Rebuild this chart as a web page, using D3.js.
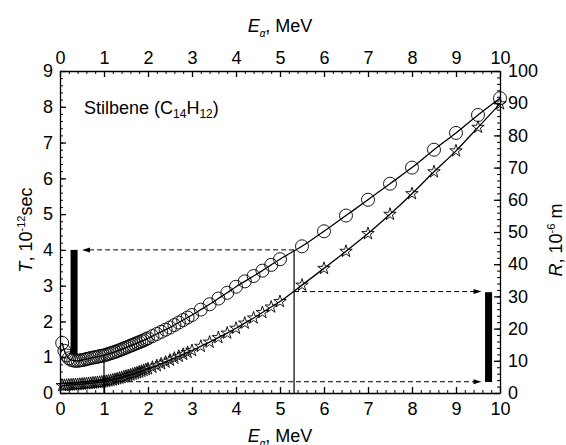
<!DOCTYPE html>
<head>
  <meta charset="utf-8">
  <style>
  body{
    margin:0;
    background-color:white;
  }
  svg{
    font-family:"Liberation Sans", Arial, sans-serif;
  }
  .axis text{
    font-size:18px;
    fill:black;
  }
  .axis path, .axis line{
    stroke:black;
  }
  .title{
    font-size:18px;
  }
  </style>
</head>
<body>
  <svg width="566" height="445"></svg>
  <script src="https://d3js.org/d3.v7.min.js"></script>
  <script>

  // energy grid (MeV), shared by both series
  var energy = [0.05,0.1,0.15,0.2,0.25,0.3,0.35,0.4,0.45,0.5,0.55,0.6,0.65,0.7,0.75,0.8,0.85,0.9,0.95,1.0,
    1.05,1.1,1.15,1.2,1.25,1.3,1.35,1.4,1.45,1.5,1.55,1.6,1.65,1.7,1.75,1.8,1.85,1.9,1.95,2.0,
    2.1,2.2,2.3,2.4,2.5,2.6,2.7,2.8,2.9,3.0,
    3.2,3.4,3.6,3.8,4.0,4.2,4.4,4.6,4.8,5.0,
    5.5,6,6.5,7,7.5,8,8.5,9,9.5,10];

  // transit time T, 10^-12 s (circles, left axis)
  var timeT = [1.4,1.18,1.05,0.97,0.93,0.91,0.9,0.9,0.91,0.92,0.93,0.95,0.96,0.98,0.99,1.0,1.01,1.03,1.04,1.05,
    1.07,1.09,1.11,1.13,1.15,1.17,1.195,1.22,1.245,1.27,1.295,1.32,1.345,1.37,1.395,1.42,1.445,1.47,1.5,1.53,
    1.59,1.65,1.71,1.77,1.83,1.9,1.97,2.04,2.11,2.18,
    2.33,2.48,2.64,2.8,2.97,3.12,3.27,3.42,3.58,3.74,
    4.1,4.52,4.96,5.4,5.85,6.3,6.8,7.27,7.77,8.24];

  // range R, 10^-6 m (stars, right axis)
  var rangeR = [2.3,2.35,2.4,2.45,2.5,2.55,2.6,2.65,2.7,2.75,2.8,2.9,2.95,3.0,3.1,3.15,3.25,3.3,3.4,3.5,
    3.62,3.75,3.9,4.05,4.22,4.4,4.6,4.8,5.0,5.2,5.4,5.6,5.82,6.05,6.27,6.5,6.75,7.0,7.25,7.5,
    8.0,8.5,9.05,9.6,10.2,10.8,11.4,12.0,12.6,13.2,
    14.5,15.8,17.2,18.6,20.1,21.7,23.3,25.0,26.7,28.4,
    33.5,38.7,44.0,49.5,55.5,61.9,68.7,75.2,82.5,89.8];

  var eTicks = [0,1,2,3,4,5,6,7,8,9,10];
  var tTicks = [0,1,2,3,4,5,6,7,8,9];
  var rTicks = [0,10,20,30,40,50,60,70,80,90,100];

  // read-off guides: energies of the two drop lines, T and R levels, bar spans
  var guideE = [1, 5.32];
  var guideT = [1.02, 4];
  var guideR = [31.5, 3.5];
  var barLeftE = [0.24, 0.4], barLeftT = [1.08, 4];
  var barRightE = [9.66, 9.82], barRightR = [3.4, 31.3];
  var arrowTipE = [0.5, 9.58];

  var svg = d3.select("svg"),
      pLeft = 60, pRight = 500, pTop = 71, pBottom = 393;

  var x = d3.scaleLinear().domain([0, 10]).range([pLeft, pRight]);
  var yT = d3.scaleLinear().domain([0, 9]).range([pBottom, pTop]);
  var yR = d3.scaleLinear().domain([0, 100]).range([pBottom, pTop]);

  var minorE = d3.range(0, 10.001, 0.2), minorT = d3.range(0, 9.001, 0.2), minorR = d3.range(0, 100.001, 2);

  function drawAxis(axis, minorAxis, tr) {
    svg.append("g").attr("class", "axis").attr("transform", tr)
      .call(minorAxis.tickFormat("").tickSize(-3).tickSizeOuter(0))
      .call(function(g) { g.select(".domain").remove(); });
    svg.append("g").attr("class", "axis").attr("transform", tr).call(axis)
      .selectAll("line, path").attr("stroke-width", 1.3);
  }

  var axB = d3.axisBottom(x).tickValues(eTicks).tickFormat(d3.format("d")).tickSize(-6).tickSizeOuter(0).tickPadding(9);
  var axT = d3.axisTop(x).tickValues(eTicks).tickFormat(d3.format("d")).tickSize(-6).tickSizeOuter(0).tickPadding(7);
  var axL = d3.axisLeft(yT).tickValues(tTicks).tickFormat(d3.format("d")).tickSize(-6).tickSizeOuter(0).tickPadding(7);
  var axR = d3.axisRight(yR).tickValues(rTicks).tickFormat(d3.format("d")).tickSize(-6).tickSizeOuter(0).tickPadding(8);

  drawAxis(axB, d3.axisBottom(x).tickValues(minorE), "translate(0," + pBottom + ")");
  drawAxis(axT, d3.axisTop(x).tickValues(minorE), "translate(0," + pTop + ")");
  drawAxis(axL, d3.axisLeft(yT).tickValues(minorT), "translate(" + pLeft + ",0)");
  drawAxis(axR, d3.axisRight(yR).tickValues(minorR), "translate(" + pRight + ",0)");

  // guides
  var guides = svg.append("g").attr("stroke", "black").attr("fill", "none");
  guides.append("line").attr("x1", x(guideE[0])).attr("x2", x(guideE[0]))
      .attr("y1", yT(0)).attr("y2", yT(guideT[0])).attr("stroke-width", 1.2);
  guides.append("line").attr("x1", x(guideE[1])).attr("x2", x(guideE[1]))
      .attr("y1", yT(0)).attr("y2", yT(guideT[1])).attr("stroke-width", 1.2);
  guides.append("line").attr("x1", x(guideE[1])).attr("x2", x(arrowTipE[0]) + 6)
      .attr("y1", yT(guideT[1])).attr("y2", yT(guideT[1])).attr("stroke-dasharray", "5,3");
  guides.append("line").attr("x1", x(guideE[1])).attr("x2", x(arrowTipE[1]) - 6)
      .attr("y1", yR(guideR[0])).attr("y2", yR(guideR[0])).attr("stroke-dasharray", "5,3");
  guides.append("line").attr("x1", x(guideE[0])).attr("x2", x(arrowTipE[1]) - 6)
      .attr("y1", yR(guideR[1])).attr("y2", yR(guideR[1])).attr("stroke-dasharray", "5,3");

  function arrow(tx, ty, dir) {
    svg.append("path")
      .attr("d", "M" + tx + "," + ty + "L" + (tx - dir * 8) + "," + (ty - 2.5) + "L" + (tx - dir * 8) + "," + (ty + 2.5) + "Z")
      .attr("fill", "black");
  }
  arrow(x(arrowTipE[0]), yT(guideT[1]), -1);
  arrow(x(arrowTipE[1]), yR(guideR[0]), 1);
  arrow(x(arrowTipE[1]), yR(guideR[1]), 1);

  svg.append("rect").attr("x", x(barLeftE[0])).attr("width", x(barLeftE[1]) - x(barLeftE[0]))
      .attr("y", yT(barLeftT[1])).attr("height", yT(barLeftT[0]) - yT(barLeftT[1])).attr("fill", "black");
  svg.append("rect").attr("x", x(barRightE[0])).attr("width", x(barRightE[1]) - x(barRightE[0]))
      .attr("y", yR(barRightR[1])).attr("height", yR(barRightR[0]) - yR(barRightR[1])).attr("fill", "black");

  // series
  var lineT = d3.line().curve(d3.curveMonotoneX)
      .x(function(d, i) { return x(energy[i]); }).y(function(d) { return yT(d); });
  var lineR = d3.line().curve(d3.curveMonotoneX)
      .x(function(d, i) { return x(energy[i]); }).y(function(d) { return yR(d); });

  svg.append("g").selectAll("circle").data(timeT).enter().append("circle")
      .attr("cx", function(d, i) { return x(energy[i]); })
      .attr("cy", function(d) { return yT(d); })
      .attr("r", 6.5).attr("fill", "none").attr("stroke", "black").attr("stroke-width", 0.9);

  var star = d3.symbol().type(d3.symbolStar).size(48);
  svg.append("g").selectAll("path").data(rangeR).enter().append("path")
      .attr("d", star)
      .attr("transform", function(d, i) { return "translate(" + x(energy[i]) + "," + yR(d) + ")"; })
      .attr("fill", "none").attr("stroke", "black").attr("stroke-width", 0.9);

  svg.append("path").datum(timeT).attr("d", lineT).attr("fill", "none").attr("stroke", "black").attr("stroke-width", 1.3);
  svg.append("path").datum(rangeR).attr("d", lineR).attr("fill", "none").attr("stroke", "black").attr("stroke-width", 1.3);

  // labels
  var lab = svg.append("text").attr("class", "title").attr("x", 84).attr("y", 114);
  lab.append("tspan").text("Stilbene (C");
  lab.append("tspan").attr("dy", 4).attr("font-size", 12).text("14");
  lab.append("tspan").attr("dy", -4).text("H");
  lab.append("tspan").attr("dy", 4).attr("font-size", 12).text("12");
  lab.append("tspan").attr("dy", -4).text(")");

  function energyTitle(y) {
    var t = svg.append("text").attr("class", "title").attr("x", 280).attr("y", y).attr("text-anchor", "middle");
    t.append("tspan").attr("font-style", "italic").text("E");
    t.append("tspan").attr("dy", 5).attr("font-size", 10).attr("font-style", "italic").text("α");
    t.append("tspan").attr("dy", -5).text(", MeV");
  }
  energyTitle(32);
  energyTitle(442);

  var tl = svg.append("text").attr("class", "title").attr("text-anchor", "middle")
      .attr("transform", "translate(32,230) rotate(-90)");
  tl.append("tspan").attr("font-style", "italic").text("T");
  tl.append("tspan").text(", 10");
  tl.append("tspan").attr("dy", -7).attr("font-size", 11).text("-12");
  tl.append("tspan").attr("dy", 7).text("sec");

  var rl = svg.append("text").attr("class", "title").attr("text-anchor", "middle")
      .attr("transform", "translate(562,240) rotate(-90)");
  rl.append("tspan").attr("font-style", "italic").text("R");
  rl.append("tspan").text(", 10");
  rl.append("tspan").attr("dy", -7).attr("font-size", 11).text("-6");
  rl.append("tspan").attr("dy", 7).text(" m");

  </script>
</body>
